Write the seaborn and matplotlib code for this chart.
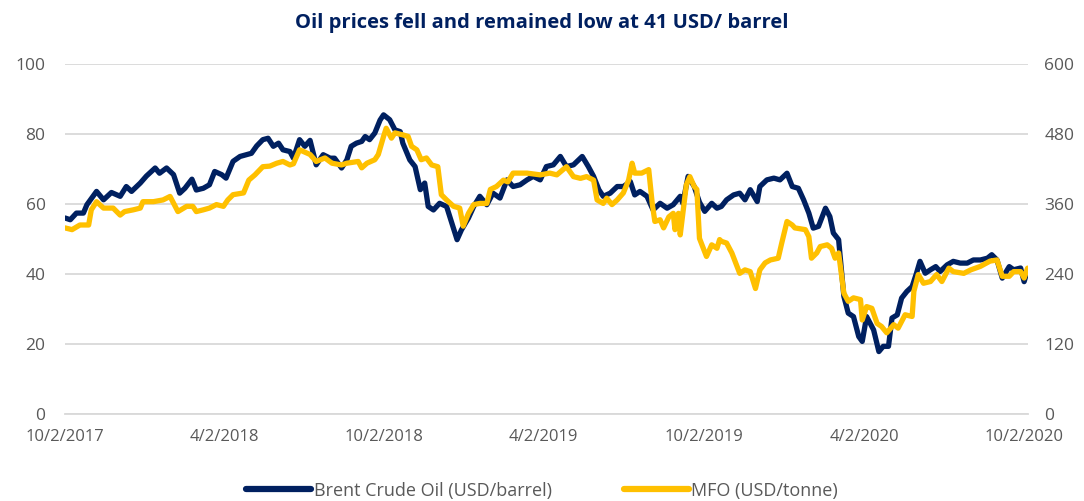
import numpy as np
import pandas as pd
import matplotlib
matplotlib.use("Agg")
import matplotlib.pyplot as plt
import matplotlib.dates as mdates
import seaborn as sns

# -------------------------------
# Data
# -------------------------------
brent_dates = [
    "2017-10-02", "2017-10-08", "2017-10-15", "2017-10-23", "2017-10-27", "2017-11-07",
    "2017-11-15", "2017-11-24", "2017-12-04", "2017-12-11", "2017-12-17", "2017-12-27",
    "2018-01-03", "2018-01-13", "2018-01-18", "2018-01-26", "2018-02-03", "2018-02-10",
    "2018-02-16", "2018-02-24", "2018-03-01", "2018-03-09", "2018-03-16", "2018-03-22",
    "2018-03-30", "2018-04-04", "2018-04-12", "2018-04-20", "2018-04-27", "2018-05-03",
    "2018-05-09", "2018-05-16", "2018-05-22", "2018-05-28", "2018-06-03", "2018-06-08",
    "2018-06-16", "2018-06-20", "2018-06-27", "2018-07-03", "2018-07-09", "2018-07-16",
    "2018-07-24", "2018-08-01", "2018-08-06", "2018-08-14", "2018-08-20", "2018-08-25",
    "2018-08-31", "2018-09-06", "2018-09-10", "2018-09-15", "2018-09-21", "2018-09-27",
    "2018-10-01", "2018-10-08", "2018-10-14", "2018-10-20", "2018-10-23", "2018-10-31",
    "2018-11-06", "2018-11-12", "2018-11-17", "2018-11-21", "2018-11-27", "2018-12-04",
    "2018-12-12", "2018-12-18", "2018-12-24", "2018-12-29", "2019-01-06", "2019-01-12",
    "2019-01-19", "2019-01-27", "2019-02-03", "2019-02-11", "2019-02-19", "2019-02-26",
    "2019-03-06", "2019-03-14", "2019-03-21", "2019-03-29", "2019-04-05", "2019-04-13",
    "2019-04-21", "2019-04-28", "2019-05-06", "2019-05-16", "2019-05-23", "2019-05-29",
    "2019-06-04", "2019-06-09", "2019-06-17", "2019-06-25", "2019-07-02", "2019-07-10",
    "2019-07-15", "2019-07-21", "2019-07-29", "2019-08-05", "2019-08-13", "2019-08-21",
    "2019-08-28", "2019-09-05", "2019-09-08", "2019-09-14", "2019-09-21", "2019-09-27",
    "2019-10-03", "2019-10-11", "2019-10-17", "2019-10-22", "2019-10-28", "2019-11-05",
    "2019-11-12", "2019-11-18", "2019-11-24", "2019-12-02", "2019-12-05", "2019-12-13",
    "2019-12-21", "2019-12-28", "2020-01-05", "2020-01-11", "2020-01-18", "2020-01-24",
    "2020-01-30", "2020-02-04", "2020-02-10", "2020-02-18", "2020-02-23", "2020-02-27",
    "2020-03-04", "2020-03-10", "2020-03-15", "2020-03-21", "2020-03-27", "2020-03-31",
    "2020-04-05", "2020-04-13", "2020-04-19", "2020-04-24", "2020-04-30", "2020-05-04",
    "2020-05-10", "2020-05-15", "2020-05-21", "2020-05-27", "2020-06-01", "2020-06-05",
    "2020-06-11", "2020-06-17", "2020-06-23", "2020-06-28", "2020-07-06", "2020-07-13",
    "2020-07-21", "2020-07-29", "2020-08-05", "2020-08-13", "2020-08-21", "2020-08-26",
    "2020-09-01", "2020-09-07", "2020-09-15", "2020-09-20", "2020-09-28", "2020-10-02",
    "2020-10-06",
]
brent_usd_barrel = [
    56.0, 55.5, 57.4, 57.4, 59.8, 63.6,
    61.2, 63.3, 62.2, 65.0, 63.6, 66.0,
    68.0, 70.3, 68.8, 70.3, 68.4, 63.1,
    64.5, 67.1, 64.0, 64.5, 65.5, 69.3,
    68.4, 67.4, 72.2, 73.6, 74.1, 74.5,
    76.6, 78.4, 78.8, 76.5, 77.4, 75.5,
    75.0, 73.1, 78.4, 76.5, 78.2, 71.2,
    74.1, 73.1, 73.1, 70.3, 72.6, 76.5,
    77.4, 77.9, 79.3, 78.4, 80.3, 84.0,
    85.5, 84.1, 81.2, 80.7, 77.4, 72.6,
    70.7, 64.1, 66.0, 59.3, 58.3, 60.2,
    59.3, 54.5, 49.8, 52.6, 56.0, 59.3,
    62.2, 59.8, 63.1, 61.7, 66.9, 65.0,
    65.5, 66.9, 67.9, 66.9, 70.7, 71.2,
    73.6, 70.7, 71.2, 73.6, 70.7, 67.9,
    64.1, 62.2, 63.1, 65.0, 65.0, 66.4,
    62.6, 63.6, 62.2, 58.3, 60.2, 58.8,
    59.8, 62.2, 60.2, 67.9, 65.0, 60.5,
    57.9, 60.2, 58.8, 59.3, 61.2, 62.6,
    63.1, 61.2, 64.1, 60.7, 65.0, 66.9,
    67.4, 66.9, 68.8, 65.0, 64.5, 61.2,
    57.4, 53.1, 53.6, 58.8, 56.4, 51.7,
    49.8, 33.6, 28.8, 27.8, 22.1, 20.7,
    27.8, 24.0, 17.8, 19.3, 19.3, 27.4,
    28.3, 33.1, 35.0, 36.4, 40.2, 43.6,
    40.2, 41.2, 42.1, 40.7, 42.6, 43.6,
    43.1, 43.1, 44.0, 44.0, 44.5, 45.5,
    44.0, 38.8, 42.1, 41.2, 41.7, 37.8,
    41.2,
]

mfo_dates = [
    "2017-10-02", "2017-10-10", "2017-10-19", "2017-10-29", "2017-11-01", "2017-11-07",
    "2017-11-15", "2017-11-26", "2017-12-04", "2017-12-09", "2017-12-19", "2017-12-27",
    "2017-12-30", "2018-01-11", "2018-01-22", "2018-01-30", "2018-02-08", "2018-02-18",
    "2018-02-25", "2018-03-01", "2018-03-09", "2018-03-16", "2018-03-24", "2018-04-01",
    "2018-04-06", "2018-04-12", "2018-04-24", "2018-04-30", "2018-05-07", "2018-05-16",
    "2018-05-24", "2018-06-01", "2018-06-08", "2018-06-16", "2018-06-20", "2018-06-27",
    "2018-07-09", "2018-07-16", "2018-07-26", "2018-08-03", "2018-08-14", "2018-08-20",
    "2018-09-02", "2018-09-06", "2018-09-12", "2018-09-21", "2018-09-25", "2018-10-01",
    "2018-10-04", "2018-10-10", "2018-10-14", "2018-10-22", "2018-10-29", "2018-11-02",
    "2018-11-08", "2018-11-13", "2018-11-19", "2018-11-25", "2018-12-02", "2018-12-06",
    "2018-12-12", "2018-12-20", "2018-12-27", "2018-12-31", "2019-01-06", "2019-01-12",
    "2019-01-19", "2019-01-27", "2019-01-31", "2019-02-07", "2019-02-15", "2019-02-20",
    "2019-02-26", "2019-03-14", "2019-03-29", "2019-04-09", "2019-04-17", "2019-04-28",
    "2019-05-06", "2019-05-14", "2019-05-21", "2019-05-29", "2019-06-02", "2019-06-09",
    "2019-06-13", "2019-06-19", "2019-06-25", "2019-07-02", "2019-07-08", "2019-07-12",
    "2019-07-15", "2019-07-23", "2019-07-31", "2019-08-04", "2019-08-07", "2019-08-13",
    "2019-08-17", "2019-08-23", "2019-08-28", "2019-08-30", "2019-09-03", "2019-09-05",
    "2019-09-08", "2019-09-12", "2019-09-16", "2019-09-21", "2019-09-24", "2019-09-27",
    "2019-10-05", "2019-10-11", "2019-10-17", "2019-10-20", "2019-10-22", "2019-10-28",
    "2019-11-03", "2019-11-12", "2019-11-18", "2019-11-24", "2019-11-30", "2019-12-05",
    "2019-12-11", "2019-12-17", "2019-12-26", "2019-12-30", "2020-01-05", "2020-01-11",
    "2020-01-14", "2020-01-26", "2020-01-30", "2020-02-02", "2020-02-08", "2020-02-12",
    "2020-02-20", "2020-02-25", "2020-02-29", "2020-03-04", "2020-03-10", "2020-03-15",
    "2020-03-21", "2020-03-29", "2020-03-31", "2020-04-05", "2020-04-11", "2020-04-17",
    "2020-04-22", "2020-04-28", "2020-05-06", "2020-05-11", "2020-05-19", "2020-05-27",
    "2020-05-29", "2020-06-03", "2020-06-09", "2020-06-17", "2020-06-24", "2020-06-30",
    "2020-07-08", "2020-07-13", "2020-07-25", "2020-08-02", "2020-08-13", "2020-08-24",
    "2020-09-01", "2020-09-07", "2020-09-15", "2020-09-20", "2020-09-28", "2020-10-02",
    "2020-10-06",
]
mfo_usd_tonne = [
    319, 316, 324, 324, 350, 364,
    353, 353, 341, 347, 350, 353,
    364, 364, 367, 373, 347, 356,
    356, 347, 350, 353, 359, 356,
    367, 376, 379, 401, 410, 424,
    425, 430, 433, 427, 429, 453,
    445, 433, 439, 430, 427, 430,
    433, 422, 430, 436, 445, 476,
    490, 473, 482, 479, 476, 459,
    453, 436, 439, 427, 424, 376,
    367, 356, 353, 322, 344, 359,
    361, 361, 385, 390, 401, 398,
    413, 413, 410, 413, 410, 424,
    407, 404, 407, 401, 367, 361,
    370, 359, 367, 379, 401, 430,
    413, 413, 419, 361, 330, 333,
    319, 338, 344, 316, 344, 307,
    344, 393, 407, 390, 385, 301,
    270, 290, 284, 299, 296, 293,
    276, 241, 247, 244, 215, 247,
    259, 264, 267, 293, 330, 324,
    319, 316, 304, 267, 276, 287,
    290, 284, 267, 276, 207, 193,
    199, 196, 161, 184, 181, 155,
    150, 139, 153, 147, 170, 167,
    210, 239, 224, 227, 239, 227,
    250, 244, 241, 247, 253, 262,
    264, 236, 236, 244, 244, 233,
    250,
]

left_ticks = [0, 20, 40, 60, 80, 100]
right_ticks = [0, 120, 240, 360, 480, 600]
x_ticks = ["2017-10-02", "2018-04-02", "2018-10-02", "2019-04-02",
           "2019-10-02", "2020-04-02", "2020-10-02"]

brent = pd.DataFrame({"Date": pd.to_datetime(brent_dates), "Price": brent_usd_barrel})
mfo = pd.DataFrame({"Date": pd.to_datetime(mfo_dates), "Price": mfo_usd_tonne})

# -------------------------------
# Style
# -------------------------------
sns.set_style("white")
plt.rcParams["font.family"] = ["Open Sans", "DejaVu Sans"]

navy = "#002060"
gold = "#FFC000"
grey_text = "#595959"
grid_col = "#D9D9D9"

fig = plt.figure(figsize=(10.84, 5.01), dpi=100)
ax = fig.add_axes([0.060, 0.174, 0.888, 0.698])
ax2 = ax.twinx()

sns.lineplot(data=brent, x="Date", y="Price", ax=ax, color=navy, linewidth=3.8,
             label="Brent Crude Oil (USD/barrel)", legend=False)
sns.lineplot(data=mfo, x="Date", y="Price", ax=ax2, color=gold, linewidth=3.8,
             label="MFO (USD/tonne)", legend=False)

ax.set_ylim(0, 100)
ax2.set_ylim(0, 600)
ax.set_yticks(left_ticks)
ax2.set_yticks(right_ticks)
ax.set_xlim(pd.Timestamp("2017-10-02"), pd.Timestamp("2020-10-06"))
ax.set_xticks(pd.to_datetime(x_ticks))
ax.xaxis.set_major_formatter(
    plt.FuncFormatter(lambda v, p: (lambda d: f"{d.month}/{d.day}/{d.year}")(mdates.num2date(v))))

ax.yaxis.grid(True, color=grid_col, linewidth=1.3)
ax.set_axisbelow(True)
ax2.grid(False)

for a in (ax, ax2):
    for s in a.spines.values():
        s.set_visible(False)
    a.set_xlabel("")
    a.set_ylabel("")
ax.spines["bottom"].set_visible(True)
ax.spines["bottom"].set_color(grid_col)
ax.spines["bottom"].set_linewidth(1.3)

ax.tick_params(axis="x", colors=grey_text, labelsize=12, length=5, color=grid_col, width=1.3, pad=6)
ax.tick_params(axis="y", colors=grey_text, labelsize=12.5, length=0, pad=14)
ax2.tick_params(axis="y", colors=grey_text, labelsize=12.5, length=0, pad=12)

fig.suptitle("Oil prices fell and remained low at 41 USD/ barrel", x=0.5, y=0.975,
             fontsize=14.5, fontweight="bold", color=navy)

h1, l1 = ax.get_legend_handles_labels()
h2, l2 = ax2.get_legend_handles_labels()
leg = fig.legend(h1 + h2, l1 + l2, loc="lower center", bbox_to_anchor=(0.5, -0.03), ncol=2,
                 frameon=False, fontsize=13, handlelength=3.6, handletextpad=0.15,
                 columnspacing=4.0)
for line in leg.get_lines():
    line.set_linewidth(4.5)
for t in leg.get_texts():
    t.set_color(grey_text)

fig.savefig("out.png", dpi=100)
